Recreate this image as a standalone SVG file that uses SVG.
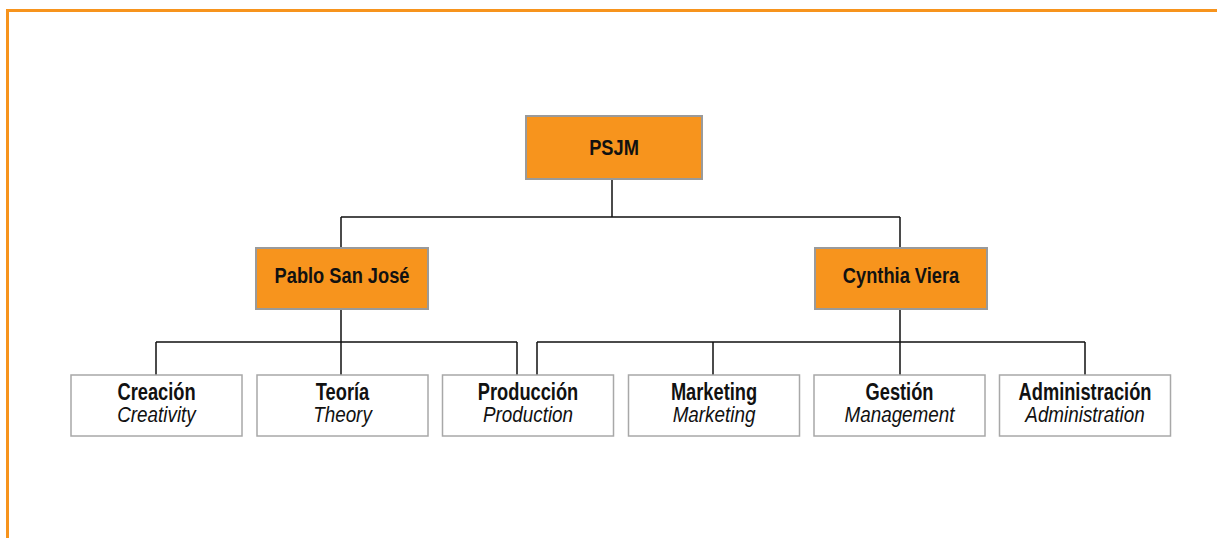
<svg xmlns="http://www.w3.org/2000/svg" width="1217" height="538" viewBox="0 0 1217 538">
  <style>
    .frame { fill: none; stroke: #F7941D; stroke-width: 3; }
    .lead { fill: #F7941D; stroke: #9A9A9A; stroke-width: 2; }
    .unit { fill: #FFFFFF; stroke: #A8A8A8; stroke-width: 1.5; }
    .link { fill: none; stroke: #111111; stroke-width: 1.5; }
    text { font-family: "Liberation Sans", Arial, sans-serif; text-anchor: middle; fill: #111111; }
    .title { font-weight: bold; font-size: 22px; }
    .sub { font-style: italic; font-size: 20.5px; }
  </style>

  <rect width="1217" height="538" fill="#FFFFFF"/>
  <!-- orange frame: top and left edges -->
  <path class="frame" d="M7.5,538 V10.5 H1217"/>

  <g id="connectors">
    <path class="link" d="M612,179 V217 M341,217 H900 M341,217 V247 M900,217 V247"/>
    <path class="link" d="M341,309 V342 M156,342 H517 M156,342 V375 M341,342 V375 M517,342 V375"/>
    <path class="link" d="M900,309 V342 M537,342 H1085 M537,342 V375 M713,342 V375 M900,342 V375 M1085,342 V375"/>
  </g>

  <!-- labels are narrowed horizontally to a condensed width -->
  <g id="psjm">
    <rect class="lead" x="526" y="116" width="176" height="63"/>
    <text class="title" transform="translate(614,155) scale(0.83,1.03)">PSJM</text>
  </g>
  <g id="pablo-san-jose">
    <rect class="lead" x="256" y="248" width="172" height="61"/>
    <text class="title" transform="translate(342,283) scale(0.83,1.03)">Pablo San José</text>
  </g>
  <g id="cynthia-viera">
    <rect class="lead" x="815" y="248" width="172" height="61"/>
    <text class="title" transform="translate(901,283) scale(0.83,1.03)">Cynthia Viera</text>
  </g>

  <g id="creacion">
    <rect class="unit" x="71" y="375" width="171" height="61"/>
    <text class="title" transform="translate(156.5,400) scale(0.83,1.05)">Creación</text>
    <text class="sub" transform="translate(156.5,422) scale(0.92,1.04)">Creativity</text>
  </g>
  <g id="teoria">
    <rect class="unit" x="257" y="375" width="171" height="61"/>
    <text class="title" transform="translate(342.5,400) scale(0.83,1.05)">Teoría</text>
    <text class="sub" transform="translate(342.5,422) scale(0.92,1.04)">Theory</text>
  </g>
  <g id="produccion">
    <rect class="unit" x="442.5" y="375" width="171" height="61"/>
    <text class="title" transform="translate(528,400) scale(0.83,1.05)">Producción</text>
    <text class="sub" transform="translate(528,422) scale(0.92,1.04)">Production</text>
  </g>
  <g id="marketing">
    <rect class="unit" x="628.5" y="375" width="171" height="61"/>
    <text class="title" transform="translate(714,400) scale(0.83,1.05)">Marketing</text>
    <text class="sub" transform="translate(714,422) scale(0.92,1.04)">Marketing</text>
  </g>
  <g id="gestion">
    <rect class="unit" x="814" y="375" width="171" height="61"/>
    <text class="title" transform="translate(899.5,400) scale(0.83,1.05)">Gestión</text>
    <text class="sub" transform="translate(899.5,422) scale(0.92,1.04)">Management</text>
  </g>
  <g id="administracion">
    <rect class="unit" x="999.5" y="375" width="171" height="61"/>
    <text class="title" transform="translate(1085,400) scale(0.83,1.05)">Administración</text>
    <text class="sub" transform="translate(1085,422) scale(0.92,1.04)">Administration</text>
  </g>
</svg>
